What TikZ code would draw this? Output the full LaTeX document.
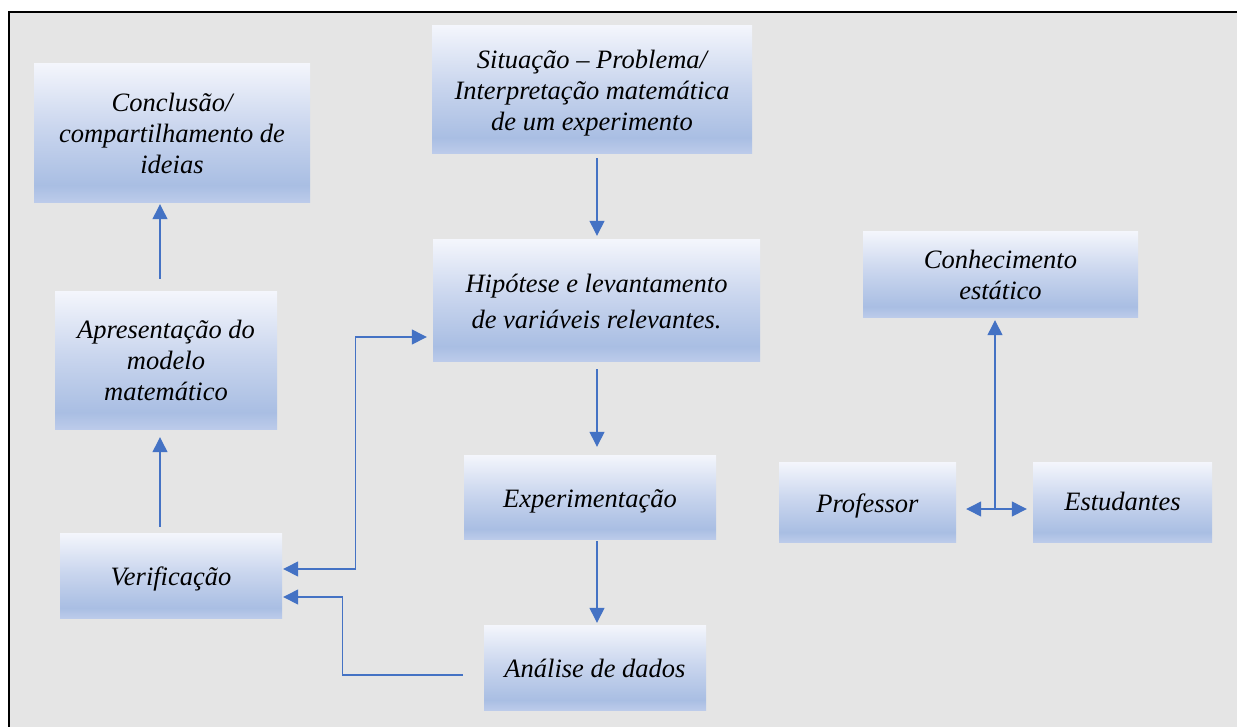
\documentclass[tikz,border=0pt]{standalone}
\usepackage{fontspec}
\setmainfont{Liberation Serif}
\usetikzlibrary{arrows.meta}
\definecolor{bgc}{HTML}{E5E5E5}
\definecolor{lnc}{HTML}{4472C4}
\definecolor{sA}{HTML}{BCCBEA}
\definecolor{sB}{HTML}{A9BEE3}
\definecolor{sC}{HTML}{CAD6EE}
\definecolor{sD}{HTML}{F4F6FC}
\pgfdeclareverticalshading{boxshade}{100bp}{color(0bp)=(sA); color(25bp)=(sA); color(31bp)=(sB); color(52bp)=(sC); color(75bp)=(sD); color(100bp)=(sD)}
\newcommand{\lowertext}[2]{\raisebox{-#1}[\height][\depth]{\begin{tabular}{@{}c@{}}#2\end{tabular}}}
\tikzset{
  box/.style={shading=boxshade, inner sep=0pt, align=center,
    font=\itshape\fontsize{26.5}{31}\selectfont},
  arr/.style={draw=lnc, line width=1.3pt, -{Triangle[length=15pt,width=15pt]}},
  darr/.style={draw=lnc, line width=1.3pt, {Triangle[length=15pt,width=15pt]}-{Triangle[length=15pt,width=15pt]}}
}
\begin{document}
\begin{tikzpicture}[x=1pt,y=-1pt]
\useasboundingbox (0,0) rectangle (1237,726);
\fill[bgc] (9,12) rectangle (1240,730);
\draw[line width=2.5pt] (9,730) -- (9,12) -- (1240,12);

\node[box, minimum width=276pt, minimum height=139pt] (conc) at (172,132.5) {\lowertext{4pt}{Conclusão/\\compartilhamento de\\ideias}};
\node[box, minimum width=320pt, minimum height=128pt] (sit) at (592,89) {\lowertext{4.5pt}{Situação – Problema/\\Interpretação matemática\\de um experimento}};
\node[box, minimum width=327pt, minimum height=122pt, font=\itshape\fontsize{26.5}{36}\selectfont] (hyp) at (596.5,300) {\lowertext{3pt}{Hipótese e levantamento\\de variáveis relevantes.}};
\node[box, minimum width=252pt, minimum height=84pt] (exp) at (590,497) {\lowertext{4.5pt}{Experimentação}};
\node[box, minimum width=222pt, minimum height=85pt] (ana) at (595,667.5) {\lowertext{3.5pt}{Análise de dados}};
\node[box, minimum width=222pt, minimum height=138pt] (apr) at (166,360) {\lowertext{3pt}{Apresentação do\\modelo\\matemático}};
\node[box, minimum width=222pt, minimum height=85pt] (ver) at (171,575.5) {\lowertext{4pt}{Verificação}};
\node[box, minimum width=275pt, minimum height=86pt] (con) at (1000.5,274) {\lowertext{3.5pt}{Conhecimento\\estático}};
\node[box, minimum width=177pt, minimum height=80pt] (pro) at (867.5,502) {\lowertext{4.5pt}{Professor}};
\node[box, minimum width=179pt, minimum height=80pt] (est) at (1122.5,502) {\lowertext{2pt}{Estudantes}};

\draw[arr] ([xshift=5pt,yshift=-5pt]sit.south) -- ([xshift=0.5pt,yshift=3pt]hyp.north);
\draw[arr] ([xshift=0.5pt,yshift=-8pt]hyp.south) -- ([xshift=7pt,yshift=8pt]exp.north);
\draw[arr] ([xshift=7pt,yshift=-2pt]exp.south) -- ([xshift=2pt,yshift=2pt]ana.north);
\draw[darr] ([xshift=1pt,yshift=6.5pt]ver.east) -- ++(72,0) |- ([xshift=-6pt,yshift=-37pt]hyp.west);
\draw[arr] ([xshift=-21pt,yshift=-7.5pt]ana.west) -- ++(-120,0) |- ([xshift=1pt,yshift=-21.5pt]ver.east);
\draw[arr] ([xshift=-11pt,yshift=6pt]ver.north) -- ([xshift=-6pt,yshift=-8pt]apr.south);
\draw[arr] ([xshift=-6pt,yshift=12pt]apr.north) -- ([xshift=-12pt,yshift=-2pt]conc.south);
\draw[darr] ([xshift=10pt,yshift=-7pt]pro.east) -- ([xshift=-6pt,yshift=-7pt]est.west);
\coordinate (mid) at (995,509);
\draw[arr] (mid) -- ([xshift=-5.5pt,yshift=-3pt]con.south);
\end{tikzpicture}
\end{document}
